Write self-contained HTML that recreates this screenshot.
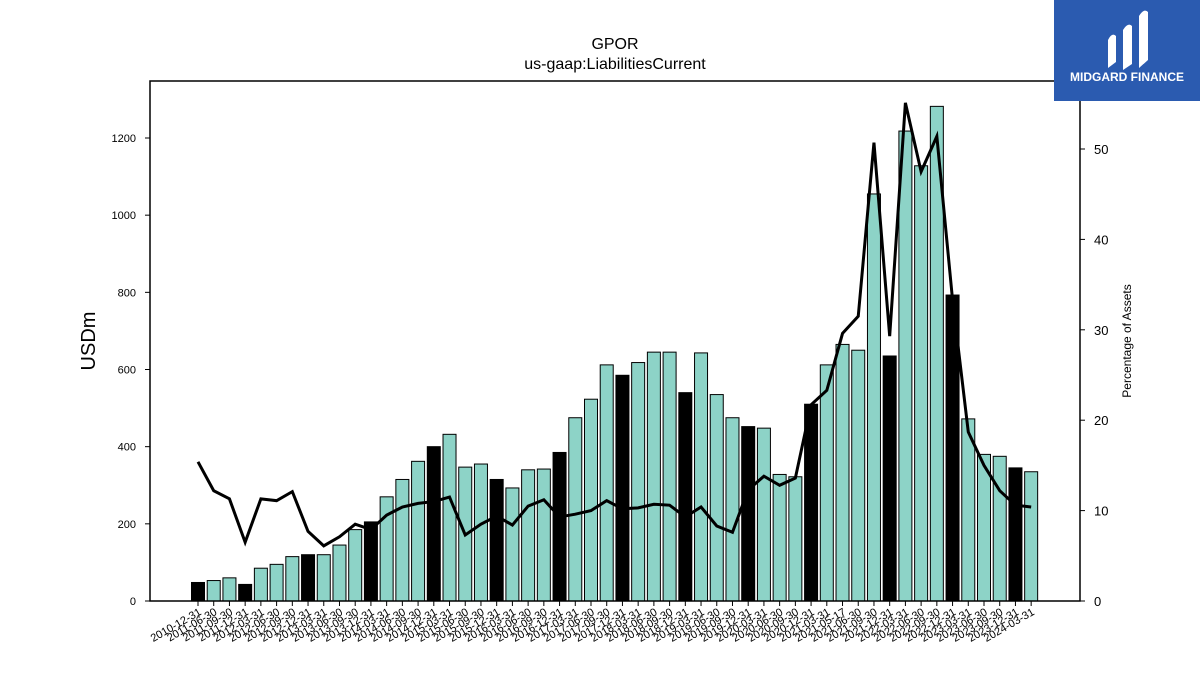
<!DOCTYPE html>
<html><head><meta charset="utf-8"><style>
html,body{margin:0;padding:0;background:#fff}
svg{display:block;font-family:"Liberation Sans","DejaVu Sans",sans-serif}
</style></head><body>
<svg id="chart" width="1200" height="675" viewBox="0 0 1200 675">
<text x="615" y="49" font-size="16" text-anchor="middle">GPOR</text>
<text x="615" y="69" font-size="16" text-anchor="middle">us-gaap:LiabilitiesCurrent</text>
<g id="bars"></g>
<g id="line"></g>
<rect x="150" y="81" width="930" height="520" fill="none" stroke="#000" stroke-width="1.5"/>
<g id="yleft"></g>
<g id="yright"></g>
<g id="xaxis"></g>
<text transform="translate(95,341) rotate(-90)" font-size="20" text-anchor="middle">USDm</text>
<text transform="translate(1131,341) rotate(-90)" font-size="12" text-anchor="middle">Percentage of Assets</text>
<g>
<rect x="1054" y="0" width="146" height="101" fill="#2b5bb0"/>
<path d="M1108 68 L1108 40 Q1112 32 1116 36 L1116 62 Z M1123 70 L1123 30 Q1128 22 1132 26 L1132 64 Z M1139 68 L1139 16 Q1144 8 1148 12 L1148 60 Z" fill="#fff"/>
<text x="1127" y="81" font-size="12" font-weight="bold" fill="#fff" text-anchor="middle">MIDGARD FINANCE</text>
</g>
</svg>
<script>
const dates=["2010-12-31","2011-06-30","2011-09-30","2011-12-31","2012-03-31","2012-06-30","2012-09-30","2012-12-31","2013-03-31","2013-06-30","2013-09-30","2013-12-31","2014-03-31","2014-06-30","2014-09-30","2014-12-31","2015-03-31","2015-06-30","2015-09-30","2015-12-31","2016-03-31","2016-06-30","2016-09-30","2016-12-31","2017-03-31","2017-06-30","2017-09-30","2017-12-31","2018-03-31","2018-06-30","2018-09-30","2018-12-31","2019-03-31","2019-06-30","2019-09-30","2019-12-31","2020-03-31","2020-06-30","2020-09-30","2020-12-31","2021-03-31","2021-05-17","2021-06-30","2021-09-30","2021-12-31","2022-03-31","2022-06-30","2022-09-30","2022-12-31","2023-03-31","2023-06-30","2023-09-30","2023-12-31","2024-03-31"];
const liabilities=[48,53,60,43,85,95,115,120,120,145,185,205,270,315,362,400,432,347,355,315,293,340,342,385,475,523,612,585,618,645,645,540,643,535,475,452,448,328,322,510,612,665,650,1055,635,1218,1128,1282,793,472,380,375,345,335];
const pctAssets=[15.4,12.2,11.3,6.5,11.3,11.1,12.1,7.7,6.1,7.1,8.5,7.9,9.5,10.4,10.8,11.0,11.5,7.3,8.5,9.4,8.4,10.5,11.2,9.3,9.6,10.0,11.1,10.2,10.3,10.7,10.6,9.3,10.4,8.3,7.6,12.3,13.8,12.8,13.6,21.7,23.3,29.6,31.5,50.7,29.3,55.1,47.5,51.4,33.3,18.7,15.0,12.2,10.6,10.4];
const leftTicks=[0,200,400,600,800,1000,1200];
const rightTicks=[0,10,20,30,40,50];
const NS="http://www.w3.org/2000/svg";
function mk(t,a,p){const e=document.createElementNS(NS,t);for(const k in a)e.setAttribute(k,a[k]);p.appendChild(e);return e;}
const x0=198,step=15.72,bw=13;
const xs=i=>x0+i*step;
const yL=v=>601-v*(463/1200);
const yR=v=>601-v*9.04;
const gb=document.getElementById('bars');
liabilities.forEach((v,i)=>{
 const yearEnd=dates[i].endsWith('12-31');
 const r=mk('rect',{x:xs(i)-bw/2,y:yL(v),width:bw,height:601-yL(v),fill:yearEnd?'#000':'#8dd3c7',stroke:'#000','stroke-width':1},gb);
 
 
});
const gl=document.getElementById('line');
const pl=mk('polyline',{points:pctAssets.map((v,i)=>xs(i)+','+yR(v)).join(' '),fill:'none',stroke:'#000','stroke-width':3,'stroke-linejoin':'miter'},gl);


const gy=document.getElementById('yleft');
leftTicks.forEach(t=>{
 mk('line',{x1:145,x2:150,y1:yL(t),y2:yL(t),stroke:'#000'},gy);
 const tx=mk('text',{x:136,y:yL(t)+4,'font-size':11,'text-anchor':'end'},gy);tx.textContent=t;
 
 
});
const gr=document.getElementById('yright');
rightTicks.forEach(t=>{
 mk('line',{x1:1080,x2:1085,y1:yR(t),y2:yR(t),stroke:'#000'},gr);
 const tx=mk('text',{x:1094,y:yR(t)+5,'font-size':13},gr);tx.textContent=t;
 
 
});
const gx=document.getElementById('xaxis');
dates.forEach((d,i)=>{
 mk('line',{x1:xs(i),x2:xs(i),y1:601,y2:606,stroke:'#000'},gx);
 const tx=mk('text',{transform:`translate(${xs(i)+4},${614}) rotate(-30)`,'font-size':11,'text-anchor':'end'},gx);tx.textContent=d;
 
 
});
</script>
</body></html>
